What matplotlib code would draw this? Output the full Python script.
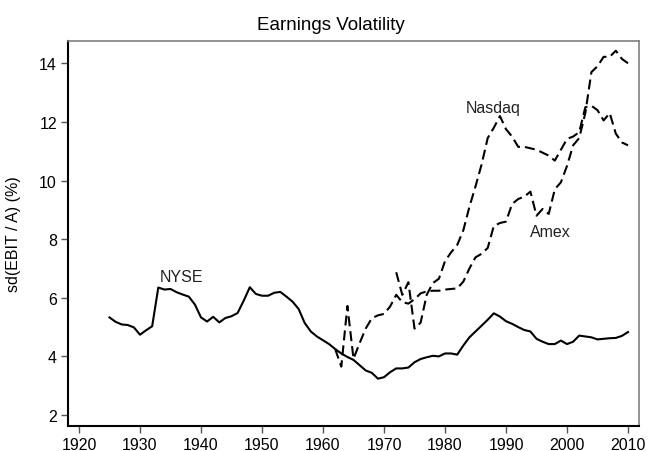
import matplotlib
matplotlib.use('Agg')
import matplotlib.pyplot as plt
import numpy as np

plt.rcParams['font.family'] = ['Liberation Sans', 'DejaVu Sans']

# NYSE, 1925-2010
nyse_years = list(range(1925, 2011))
nyse_vals = [5.33, 5.18, 5.09, 5.07, 4.99, 4.74, 4.89, 5.03, 6.35, 6.28,
             6.30, 6.19, 6.11, 6.04, 5.77, 5.33, 5.19, 5.35, 5.16, 5.31,
             5.37, 5.48, 5.90, 6.36, 6.13, 6.07, 6.07, 6.17, 6.20, 6.04,
             5.87, 5.62, 5.14, 4.85, 4.68, 4.55, 4.42, 4.25, 4.10, 3.98,
             3.88, 3.70, 3.52, 3.44, 3.24, 3.29, 3.46, 3.59, 3.59, 3.62,
             3.80, 3.91, 3.97, 4.02, 4.00, 4.10, 4.10, 4.06, 4.37, 4.65,
             4.85, 5.05, 5.25, 5.47, 5.36, 5.20, 5.11, 5.00, 4.90, 4.85,
             4.60, 4.50, 4.42, 4.42, 4.54, 4.42, 4.50, 4.71, 4.68, 4.65,
             4.58, 4.60, 4.62, 4.63, 4.70, 4.83]

# Amex, 1962-2010
amex_years = list(range(1962, 2011))
amex_vals = [4.25, 3.65, 5.72, 3.92, 4.45, 4.95, 5.30, 5.40, 5.45, 5.70,
             6.10, 5.85, 5.80, 5.95, 6.15, 6.22, 6.24, 6.24, 6.28, 6.30,
             6.32, 6.55, 7.00, 7.38, 7.50, 7.70, 8.45, 8.55, 8.60, 9.20,
             9.37, 9.45, 9.62, 8.80, 9.03, 8.86, 9.70, 9.94, 10.50, 11.20,
             11.45, 12.30, 13.70, 13.90, 14.22, 14.22, 14.43, 14.15, 14.00]

# Nasdaq, 1972-2010
nasdaq_years = list(range(1972, 2011))
nasdaq_vals = [6.87, 6.10, 6.53, 4.95, 5.15, 6.10, 6.50, 6.65, 7.25, 7.55,
               7.80, 8.30, 9.10, 9.80, 10.55, 11.45, 11.80, 12.20, 11.75, 11.50,
               11.15, 11.15, 11.10, 11.05, 10.95, 10.85, 10.68, 11.05, 11.42, 11.50,
               11.65, 12.50, 12.55, 12.40, 12.05, 12.30, 11.60, 11.30, 11.20]

x_ticks = list(range(1920, 2011, 10))
y_ticks = [2, 4, 6, 8, 10, 12, 14]

fig = plt.figure(figsize=(6.57, 4.52), dpi=100)
ax = fig.add_axes([0.1035, 0.0553, 0.8691, 0.8524])

dash = (4.8, 2.4)
ax.plot(nyse_years, nyse_vals, color='black', lw=1.5)
ax.plot(amex_years, amex_vals, color='black', lw=1.5, dashes=dash)
ax.plot(nasdaq_years, nasdaq_vals, color='black', lw=1.5, dashes=dash)

ax.text(1936.8, 6.74, 'NYSE', ha='center', va='center', fontsize=11.5, color='#222222')
ax.text(1987.9, 12.48, 'Nasdaq', ha='center', va='center', fontsize=11.5, color='#222222')
ax.text(1997.2, 8.25, 'Amex', ha='center', va='center', fontsize=11.5, color='#222222')

ax.set_xlim(1918.2, 2011.8)
ax.set_ylim(1.625, 14.77)
ax.set_xticks(x_ticks)
ax.set_yticks(y_ticks)
ax.tick_params(labelsize=11.5, length=5, width=1, color='#555555', pad=3)

for side in ['left', 'bottom']:
    ax.spines[side].set_color('black')
    ax.spines[side].set_linewidth(1.5)
for side in ['top', 'right']:
    ax.spines[side].set_color('#7f7f7f')
    ax.spines[side].set_linewidth(1.2)

ax.set_ylabel('sd(EBIT / A) (%)', fontsize=11.5)
ax.yaxis.set_label_coords(-0.083, 0.5)
fig.text(0.503, 0.943, 'Earnings Volatility', ha='center', va='center', fontsize=13.5)

fig.savefig('out.png', dpi=100)
